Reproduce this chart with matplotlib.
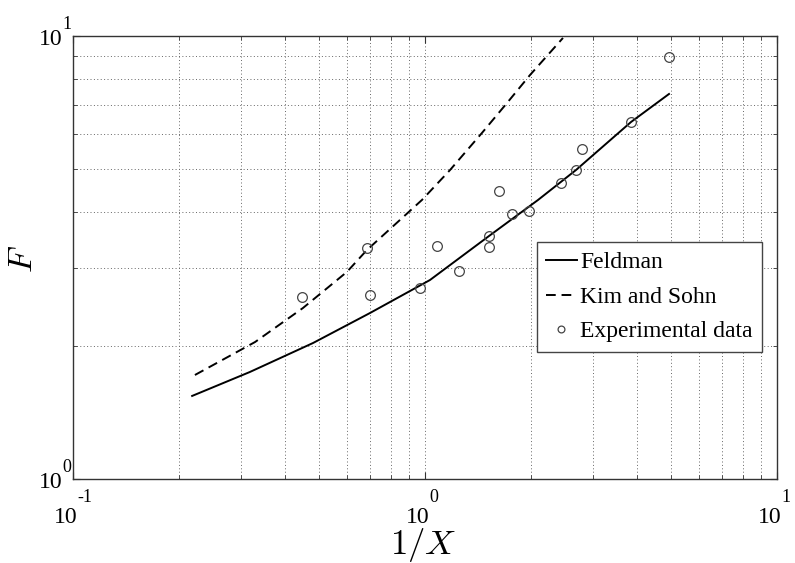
import numpy as np
import matplotlib
matplotlib.use("Agg")
import matplotlib.pyplot as plt
from matplotlib.ticker import LogLocator, NullFormatter, FixedLocator
from matplotlib.transforms import offset_copy, blended_transform_factory

plt.rcParams['font.family'] = ['Liberation Serif', 'DejaVu Serif']
plt.rcParams['mathtext.fontset'] = 'custom'
plt.rcParams['mathtext.rm'] = 'Liberation Serif'
plt.rcParams['mathtext.it'] = 'Liberation Serif:italic'

# Feldman correlation (solid)
feld_x = [0.218, 0.318, 0.481, 0.698, 1.033, 1.520, 2.094, 2.685, 3.848, 4.934]
feld_y = [1.540, 1.744, 2.028, 2.370, 2.813, 3.536, 4.264, 4.983, 6.395, 7.398]

# Kim and Sohn correlation (dashed)
kim_x = [0.222, 0.329, 0.450, 0.600, 0.684, 0.980, 1.178, 1.451, 1.710, 1.988, 2.466]
kim_y = [1.717, 2.038, 2.432, 2.934, 3.288, 4.264, 4.983, 6.040, 7.060, 8.166, 9.90]

# Experimental data
exp_x = [0.4465, 0.684, 0.698, 0.970, 1.084, 1.246, 1.520, 1.523, 1.623,
         1.763, 1.971, 2.430, 2.685, 2.793, 3.841, 4.943]
exp_y = [2.579, 3.317, 2.602, 2.695, 3.357, 2.949, 3.536, 3.339, 4.475,
         3.958, 4.021, 4.651, 4.983, 5.568, 6.405, 8.981]

# tick values and exponent labels
xtick_vals = [0.1, 1, 10]
xtick_exps = ['-1', '0', '1']
ytick_vals = [1, 10]
ytick_exps = ['0', '1']

fig = plt.figure(figsize=(7.95, 5.63), dpi=100)
ax = fig.add_axes([73/795, 84/563, 704/795, 443/563])

ax.plot(feld_x, feld_y, color='black', lw=1.4, label='Feldman')
ax.plot(kim_x, kim_y, color='black', lw=1.4, linestyle=(0, (5, 3)), label='Kim and Sohn')
ax.plot(exp_x, exp_y, linestyle='none', marker='o', markersize=7,
        markerfacecolor='none', markeredgecolor='#444444', markeredgewidth=0.9,
        label='Experimental data')

ax.set_xscale('log')
ax.set_yscale('log')
ax.set_xlim(0.1, 10)
ax.set_ylim(1, 10)

ax.xaxis.set_major_locator(FixedLocator(xtick_vals))
ax.yaxis.set_major_locator(FixedLocator(ytick_vals))
ax.xaxis.set_minor_locator(LogLocator(base=10, subs=np.arange(2, 10), numticks=20))
ax.yaxis.set_minor_locator(LogLocator(base=10, subs=np.arange(2, 10), numticks=20))
for a in (ax.xaxis, ax.yaxis):
    a.set_major_formatter(NullFormatter())
    a.set_minor_formatter(NullFormatter())

ax.tick_params(which='both', direction='in', top=True, right=True, colors='#333333')
ax.tick_params(which='major', length=5, width=0.8)
ax.tick_params(which='minor', length=3, width=0.6)

ax.grid(True, which='both', linestyle=(0, (1, 2.5)), color='#666666', linewidth=0.7)
ax.set_axisbelow(True)

for s in ax.spines.values():
    s.set_color('#333333')
    s.set_linewidth(1.0)

# MATLAB-style tick labels: "10" with raised exponent
base_fs, sup_fs = 17, 13
xtr = blended_transform_factory(ax.transData, ax.transAxes)
for v, e in zip(xtick_vals, xtick_exps):
    ax.text(v, 0, '10', fontsize=base_fs, ha='right', va='baseline', clip_on=False,
            transform=offset_copy(xtr, fig=fig, x=5, y=-44, units='dots'))
    ax.text(v, 0, e, fontsize=sup_fs, ha='left', va='baseline', clip_on=False,
            transform=offset_copy(xtr, fig=fig, x=4, y=-23, units='dots'))
ytr = blended_transform_factory(ax.transAxes, ax.transData)
for v, e in zip(ytick_vals, ytick_exps):
    ax.text(0, v, '10', fontsize=base_fs, ha='right', va='baseline', clip_on=False,
            transform=offset_copy(ytr, fig=fig, x=-10, y=-9, units='dots'))
    ax.text(0, v, e, fontsize=sup_fs, ha='left', va='baseline', clip_on=False,
            transform=offset_copy(ytr, fig=fig, x=-11, y=7, units='dots'))

ax.set_xlabel(r'$1/X$', fontsize=25, math_fontfamily='cm')
ax.xaxis.set_label_coords(0.497, -0.149)
ax.xaxis.label.set_va('center')
ax.set_ylabel(r'$F$', fontsize=25, math_fontfamily='cm')
ax.yaxis.set_label_coords(-0.071, 0.497)
ax.yaxis.label.set_va('center')

leg = ax.legend(loc='lower right', bbox_to_anchor=(0.979, 0.287), fontsize=17,
                frameon=True, fancybox=False, edgecolor='#444444', framealpha=1,
                handlelength=1.3, handletextpad=0.15, borderpad=0.4,
                labelspacing=0.55, borderaxespad=0, markerscale=0.7)
leg.get_frame().set_linewidth(1.0)

fig.savefig('out.png', dpi=100, facecolor='white')
